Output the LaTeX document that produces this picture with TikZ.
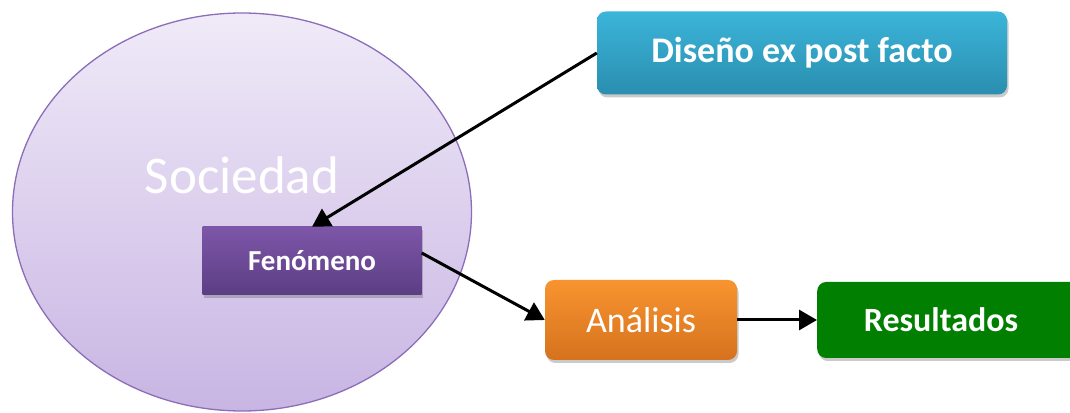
\documentclass[tikz,border=0pt]{standalone}
\usepackage{fontspec}
\setmainfont{Carlito}
\usetikzlibrary{shadows,arrows.meta,shapes.geometric}
\definecolor{ellTop}{HTML}{F0EAF8}
\definecolor{ellBot}{HTML}{C8B5E3}
\definecolor{ellLine}{HTML}{8B6DB8}
\definecolor{fenTop}{HTML}{7D56A8}
\definecolor{fenBot}{HTML}{5C3E84}
\definecolor{disTop}{HTML}{3BB5D9}
\definecolor{disBot}{HTML}{2A8EAF}
\definecolor{anaTop}{HTML}{F8942F}
\definecolor{anaBot}{HTML}{D6721E}
\definecolor{resFill}{HTML}{007F00}
\tikzset{
  boxshadow/.style={drop shadow={shadow xshift=1.5pt,shadow yshift=-3pt,opacity=0.35,fill=black!60}},
  rbox/.style={rounded corners=9pt,inner sep=0pt,boxshadow,text=white},
  conn/.style={draw=black,line width=3pt,-{Triangle[length=18pt,width=20pt]}}
}
\begin{document}
\begin{tikzpicture}[x=1pt,y=1pt]
\useasboundingbox (0,0) rectangle (1070,412);
% ellipse
\node[ellipse,draw=ellLine,line width=1.3pt,top color=ellTop,bottom color=ellBot,
      minimum width=459pt,minimum height=398pt,inner sep=0pt] (soc) at (242,200) {};
\node[text=white,font=\fontsize{53}{58}\selectfont] (soclabel) at (242,237) {Sociedad};
% Fenomeno
\node[rectangle,top color=fenTop,bottom color=fenBot,boxshadow,text=white,
      minimum width=219pt,minimum height=68pt,inner sep=0pt,
      font=\bfseries\fontsize{29}{32}\selectfont] (fen) at (312,151) {Fenómeno};
% Diseno
\node[rbox,top color=disTop,bottom color=disBot,minimum width=410pt,minimum height=83pt,
      font=\bfseries\fontsize{36}{40}\selectfont] (dis) at (802,359) {Diseño ex post facto};
% Analisis
\node[rbox,top color=anaTop,bottom color=anaBot,minimum width=192pt,minimum height=80pt,
      font=\fontsize{36}{40}\selectfont] (ana) at (641,92) {Análisis};
% Resultados
\node[rbox,fill=resFill,minimum width=270pt,minimum height=76pt,anchor=west] (res) at (817,92) {};
\node[text=white,font=\bfseries\fontsize{34}{40}\selectfont] (reslabel) at (941,92) {Resultados};
% connectors
\draw[conn] (dis.west) -- (fen.north);
\draw[conn] ([yshift=8pt]fen.east) -- (ana.west);
\draw[conn] (ana.east) -- (res.west);
\end{tikzpicture}
\end{document}
